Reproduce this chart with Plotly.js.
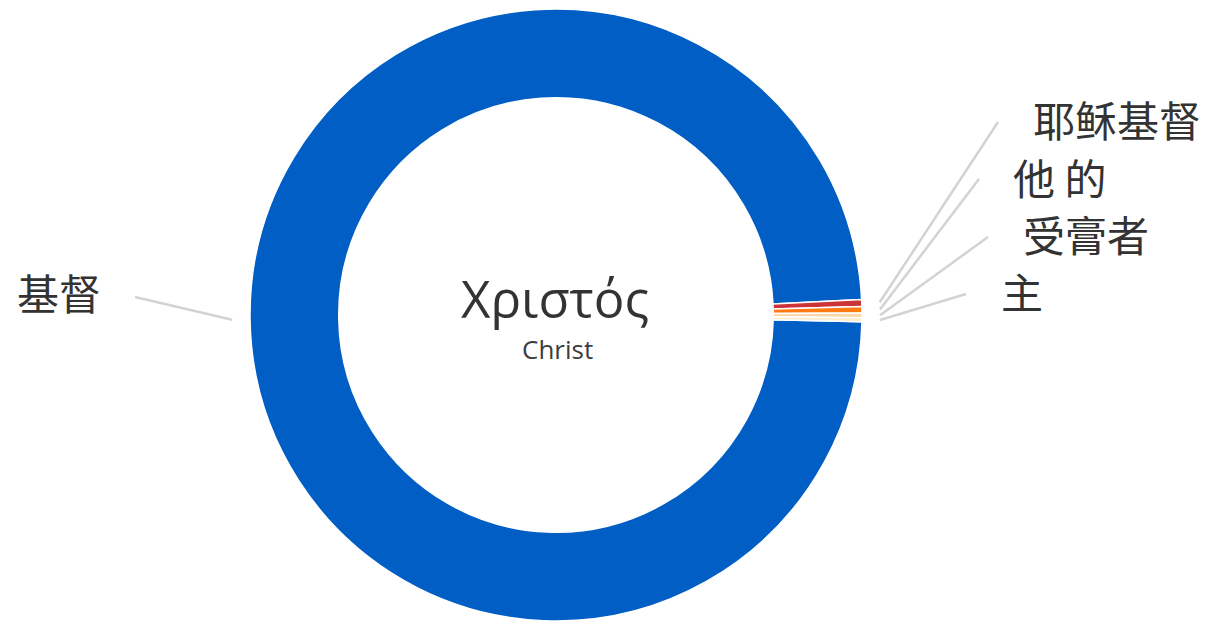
<!DOCTYPE html>
<html>
<head>
<meta charset="utf-8">
<script src="https://cdn.plot.ly/plotly-3.0.1.min.js"></script>
<style>html,body{margin:0;padding:0;background:#fff;}#chart{width:1209px;height:624px;}</style>
</head>
<body>
<div id="chart"></div>
<script>
const labels = ["基督", "耶稣基督", "他 的", "受膏者", "主"];
const values = [1420, 5.2, 4.9, 3.5, 3.0];
const colors = ["#005EC4", "#CC3338", "#FF7A12", "#FDD6A8", "#FEEBCB"];
const centerTitle = "Χριστός";
const centerSub = "Christ";

const W = 1209, H = 624;
const mT = 9, mB = 3, mL = 0, mR = 0;
const plotH = H - mT - mB, plotW = W - mL - mR;
const cx = 556, R = plotH / 2, cy = mT + R;
const rotation = 91.25; // degrees clockwise from 12 o'clock

// label anchor positions (layout, pixels)
const labelPos = [
  {x: 135, y: 297, tx: 103, ty: 291, anchor: "right"},
  {x: 998, y: 122, tx: 1031, ty: 118, anchor: "left"},
  {x: 979, y: 179, tx: 1011, ty: 176, anchor: "left"},
  {x: 988, y: 237, tx: 1021, ty: 233, anchor: "left"},
  {x: 966, y: 294, tx: 999, ty: 290, anchor: "left"}
];

const px = x => (x - mL) / plotW;
const py = y => (H - mB - y) / plotH;

const total = values.reduce((a, b) => a + b, 0);
let cum = 0;
const shapes = [], annotations = [];
values.forEach((v, i) => {
  const midDeg = rotation + (cum + v / 2) / total * 360; // clockwise from 12
  cum += v;
  const a = midDeg * Math.PI / 180;
  const r0 = R + 18;
  const sx = cx + r0 * Math.sin(a), sy = cy - r0 * Math.cos(a);
  const lp = labelPos[i];
  shapes.push({type: "line", xref: "paper", yref: "paper",
    x0: px(sx), y0: py(sy), x1: px(lp.x), y1: py(lp.y),
    line: {color: "#d3d3d3", width: 2.5}});
  annotations.push({xref: "paper", yref: "paper", x: px(lp.tx), y: py(lp.ty),
    xanchor: lp.anchor, yanchor: "middle", showarrow: false, text: labels[i],
    font: {family: "Noto Sans CJK SC", size: 42, color: "#333333"}});
});

annotations.push({xref: "paper", yref: "paper", x: px(cx - 1), y: py(298),
  xanchor: "center", yanchor: "middle", showarrow: false, text: centerTitle,
  font: {family: "Open Sans", size: 51, color: "#333333"}});
annotations.push({xref: "paper", yref: "paper", x: px(cx + 1), y: py(349),
  xanchor: "center", yanchor: "middle", showarrow: false, text: centerSub,
  font: {family: "Open Sans", size: 26, color: "#3d3d3d"}});

const trace = {
  type: "pie", labels: labels, values: values, hole: 0.71,
  sort: false, direction: "clockwise", rotation: rotation,
  marker: {colors: colors, line: {color: "#ffffff", width: 1.5}},
  textinfo: "none", hoverinfo: "label+value",
  domain: {x: [px(cx - R), px(cx + R)], y: [0, 1]}
};

Plotly.newPlot("chart", [trace], {
  width: W, height: H, showlegend: false,
  margin: {l: mL, r: mR, t: mT, b: mB, pad: 0},
  paper_bgcolor: "#fff", plot_bgcolor: "#fff",
  shapes: shapes, annotations: annotations
}, {displayModeBar: false, staticPlot: true});
</script>
</body>
</html>
